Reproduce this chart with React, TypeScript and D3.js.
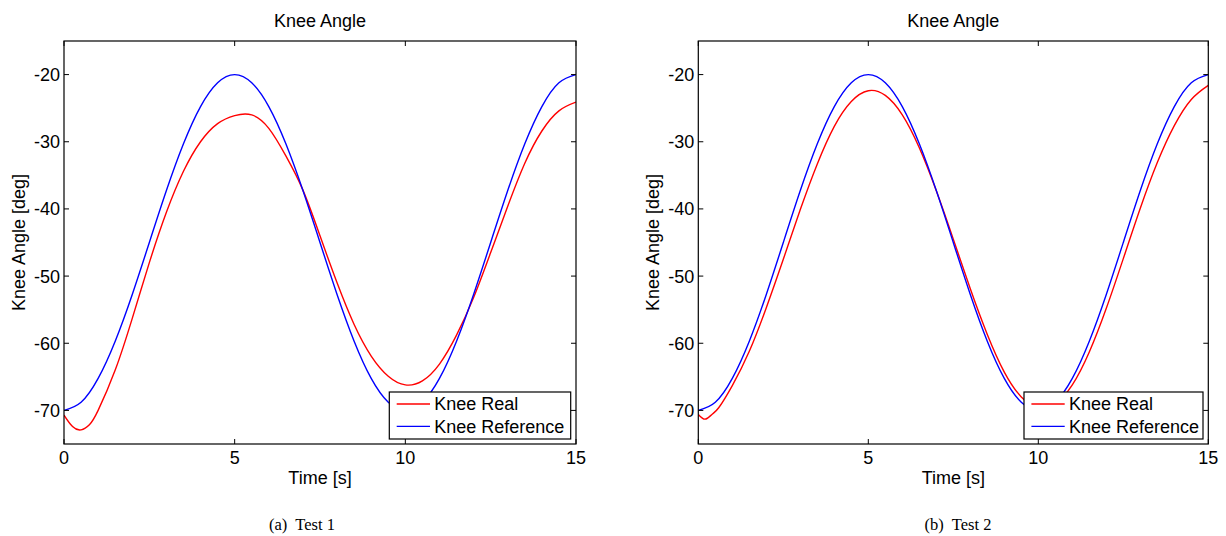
import React from "react";
import * as d3 from "d3";

// ---- Data ----
const timeRef = [0, 0.5, 1, 1.5, 2, 2.5, 3, 3.5, 4, 4.5, 5, 5.5, 6, 6.5, 7, 7.5, 8, 8.5, 9, 9.5, 10, 10.5, 11, 11.5, 12, 12.5, 13, 13.5, 14, 14.5, 15];
const kneeReference = [-70, -68.78, -65.23, -59.69, -52.73, -45.0, -37.27, -30.31, -24.77, -21.22, -20.0, -21.22, -24.77, -30.31, -37.27, -45.0, -52.73, -59.69, -65.23, -68.78, -70.0, -68.78, -65.23, -59.69, -52.73, -45.0, -37.27, -30.31, -24.77, -21.22, -20.0];

const timeReal1 = [0, 0.25, 0.5, 0.75, 1, 1.5, 2, 2.5, 3, 3.5, 4, 4.5, 5, 5.5, 6, 6.5, 7, 7.5, 8, 8.5, 9, 9.5, 10, 10.5, 11, 11.5, 12, 12.5, 13, 13.5, 14, 14.5, 15];
const kneeReal1 = [-70.7, -72.4, -72.9, -72.1, -70.0, -64.0, -56.3, -48.0, -40.5, -34.4, -30.0, -27.3, -26.1, -26.0, -28.0, -32.1, -37.2, -44.0, -51.0, -57.2, -61.9, -64.9, -66.2, -65.6, -63.1, -58.8, -53.2, -46.5, -39.6, -33.2, -28.4, -25.4, -24.1];

const timeReal2 = [0, 0.2, 0.4, 0.6, 1, 1.5, 2, 2.5, 3, 3.5, 4, 4.5, 5, 5.5, 6, 6.5, 7, 7.5, 8, 8.5, 9, 9.5, 10, 10.5, 11, 11.5, 12, 12.5, 13, 13.5, 14, 14.5, 15];
const kneeReal2 = [-70.6, -71.3, -70.6, -69.6, -66.3, -61.2, -54.7, -47.5, -40.1, -33.3, -27.7, -24.0, -22.4, -23.1, -26.0, -30.9, -37.3, -44.5, -51.9, -58.7, -64.3, -68.0, -69.6, -69.0, -66.2, -61.3, -54.8, -47.4, -39.9, -33.1, -27.6, -23.7, -21.6];

const xTicks = [0, 5, 10, 15];
const yTicks = [-70, -60, -50, -40, -30, -20];
const seriesNames = ["Knee Real", "Knee Reference"];
const seriesColors = ["#ff0000", "#0000ff"];
const panelTitle = "Knee Angle";
const xLabel = "Time [s]";
const yLabel = "Knee Angle [deg]";
const captions = ["(a)  Test 1", "(b)  Test 2"];

const FONT = "'Liberation Sans', Arial, Helvetica, sans-serif";
const FS = 18;

type PanelProps = {
  left: number;
  right: number;
  top: number;
  bottom: number;
  realT: number[];
  realV: number[];
  caption: string;
  captionX: number;
  legendLeft: number;
};

function Panel({ left, right, top, bottom, realT, realV, caption, captionX, legendLeft }: PanelProps) {
  const x = d3.scaleLinear().domain([0, 15]).range([left, right]);
  const y = d3.scaleLinear().domain([-75, -15]).range([bottom, top]);
  const line = d3
    .line<[number, number]>()
    .x((d) => x(d[0]))
    .y((d) => y(d[1]))
    .curve(d3.curveNatural);
  const realPts: [number, number][] = realT.map((t, i) => [t, realV[i]]);
  const refPts: [number, number][] = timeRef.map((t, i) => [t, kneeReference[i]]);
  const tl = 5;
  const cx = (left + right) / 2;
  const cy = (top + bottom) / 2;
  const clipId = `clip-${Math.round(left)}`;
  const legRight = right - 5.3;
  const legTop = bottom - 52;
  const legBottom = bottom - 5;
  return (
    <g>
      <defs>
        <clipPath id={clipId}>
          <rect x={left} y={top} width={right - left} height={bottom - top} />
        </clipPath>
      </defs>
      <text x={cx} y={27} textAnchor="middle" fontFamily={FONT} fontSize={FS}>
        {panelTitle}
      </text>
      <g clipPath={`url(#${clipId})`} fill="none" strokeWidth={1.4}>
        <path d={line(realPts) || ""} stroke={seriesColors[0]} />
        <path d={line(refPts) || ""} stroke={seriesColors[1]} />
      </g>
      <rect x={left} y={top} width={right - left} height={bottom - top} fill="none" stroke="#000" strokeWidth={1.2} />
      {xTicks.map((t) => (
        <g key={`x${t}`}>
          <line x1={x(t)} x2={x(t)} y1={bottom} y2={bottom - tl} stroke="#000" />
          <line x1={x(t)} x2={x(t)} y1={top} y2={top + tl} stroke="#000" />
          <text x={x(t)} y={464} textAnchor="middle" fontFamily={FONT} fontSize={FS}>
            {t}
          </text>
        </g>
      ))}
      {yTicks.map((v) => (
        <g key={`y${v}`}>
          <line x1={left} x2={left + tl} y1={y(v)} y2={y(v)} stroke="#000" />
          <line x1={right} x2={right - tl} y1={y(v)} y2={y(v)} stroke="#000" />
          <text x={left - 4} y={y(v)} dy="0.36em" textAnchor="end" fontFamily={FONT} fontSize={FS}>
            {v}
          </text>
        </g>
      ))}
      <text x={cx} y={484} textAnchor="middle" fontFamily={FONT} fontSize={FS}>
        {xLabel}
      </text>
      <text
        transform={`translate(${left - 39.5},${cy}) rotate(-90)`}
        textAnchor="middle"
        fontFamily={FONT}
        fontSize={FS}
      >
        {yLabel}
      </text>
      {/* legend */}
      <rect x={legendLeft} y={legTop} width={legRight - legendLeft} height={legBottom - legTop} fill="#fff" stroke="#000" strokeWidth={1.2} />
      {seriesNames.map((name, i) => {
        const ry = legTop + 12 + i * 22.4;
        return (
          <g key={name}>
            <line x1={legendLeft + 7.4} x2={legendLeft + 40.7} y1={ry} y2={ry} stroke={seriesColors[i]} strokeWidth={1.4} />
            <text x={legendLeft + 45} y={ry} dy="0.36em" fontFamily={FONT} fontSize={FS}>
              {name}
            </text>
          </g>
        );
      })}
      <text x={captionX} y={530} textAnchor="middle" fontFamily="'Liberation Serif', 'Times New Roman', serif" fontSize={16.5} xmlSpace="preserve">
        {caption}
      </text>
    </g>
  );
}

export default function App() {
  return (
    <svg width={1226} height={536} style={{ position: "absolute", left: 0, top: 0, background: "#fff" }}>
      <rect width={1226} height={536} fill="#fff" />
      <Panel left={64} right={576} top={41} bottom={444} realT={timeReal1} realV={kneeReal1} caption={captions[0]} captionX={302} legendLeft={389.3} />
      <Panel left={698.3} right={1208.3} top={41} bottom={444} realT={timeReal2} realV={kneeReal2} caption={captions[1]} captionX={958} legendLeft={1024} />
    </svg>
  );
}
